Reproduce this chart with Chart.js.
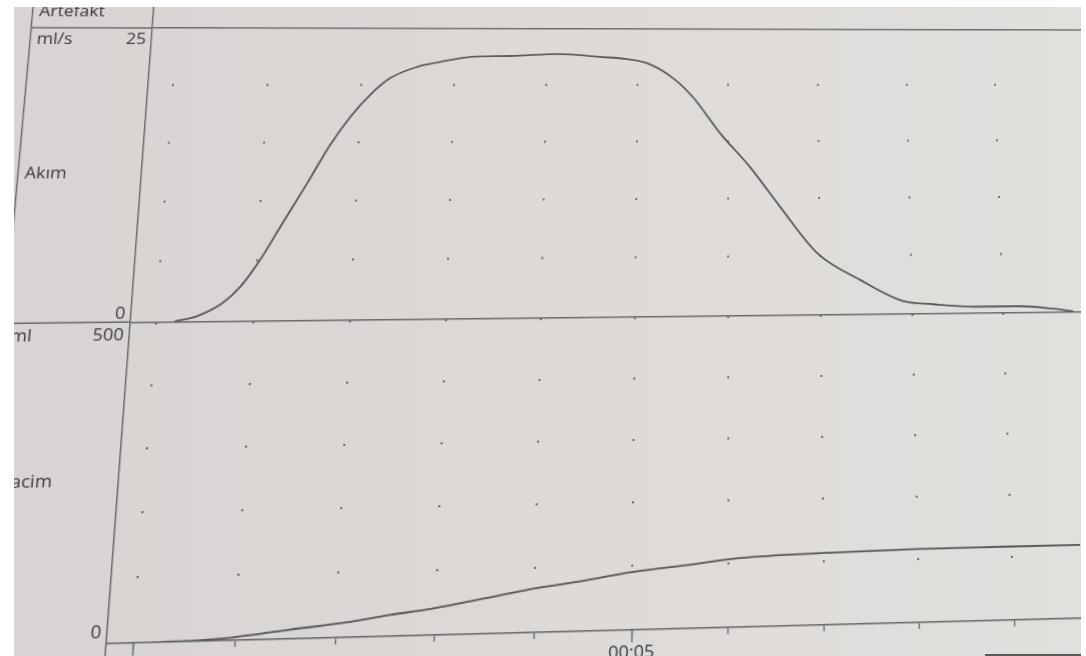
<!DOCTYPE html>
<html lang="tr">
<head>
<meta charset="utf-8">
<title>Üroflowmetri</title>
<script src="https://cdn.jsdelivr.net/npm/chart.js@4.4.1/dist/chart.umd.min.js"></script>
<style>
  html, body { margin:0; padding:0; width:1086px; height:656px; overflow:hidden; background:#ffffff; }
  #sheet {
    position:absolute; left:0; top:0; width:1086px; height:656px; overflow:hidden;
    background: linear-gradient(90deg, #d9d4d3 0%, #dbd7d5 35%, #dfdcda 70%, #e1e0dd 100%);
    clip-path: inset(7px 5px 0 14px);
  }
  #print { position:absolute; left:0; top:0; width:1200px; height:720px; transform-origin:0 0; }
  #print canvas { display:block; width:1200px; height:720px; }
  #edge { position:absolute; left:985px; top:654px; width:96px; height:2px; background:#5a5a5a; }
</style>
</head>
<body>
<div id="sheet">
  <div id="print"><canvas id="uroflow" width="1200" height="720"></canvas></div>
  <div id="edge"></div>
</div>
<script>
// Flow rate curve: time (s) and rate (ml/s)
const flowTimes = [0.19, 0.42, 0.67, 0.84, 1.03, 1.25, 1.48, 1.70, 1.90, 2.10, 2.31, 2.59, 2.84, 3.16, 3.60, 4.14,
                   4.58, 4.88, 5.10, 5.39, 5.61, 5.91, 6.24, 6.57, 6.97, 7.44, 7.90, 8.23, 8.71, 9.19, 9.56, 9.78];
const flowRates = [0, 0.43, 1.48, 2.79, 5.03, 8.21, 11.51, 14.77, 17.2, 19.12, 20.61, 21.58, 22.03, 22.48, 22.57, 22.75,
                   22.49, 22.31, 21.95, 20.61, 18.92, 15.73, 12.73, 9.23, 5.23, 2.88, 1.05, 0.75, 0.5, 0.5, 0.25, 0];

// Voided volume curve: time (s) and volume (ml)
const volumeTimes = [0.19, 0.66, 0.98, 1.54, 2.04, 2.54, 2.94, 3.52, 4.02, 4.36, 5.01, 5.57, 6.12, 6.99, 7.99, 8.95, 9.74];
const volumes     = [0, 1.5, 4.5, 14, 21.6, 32.4, 40.0, 54.7, 68.2, 74.7, 89.5, 98.5, 107.5, 112.4, 115.4, 116, 116.3];

// Scale ends, grid steps and texts
const flowMax = 25, flowStep = 5;
const volumeMax = 500, volumeStep = 100;
const timeStep = 1, timeMajorStep = 5;
const panelTitles = ['Akım', 'Hacim'];
const unitLabels = ['ml/s', 'ml'];
const headerLabel = 'Artefakt';

// ---- layout of the printout (canvas pixels) ----
const W = 1200, H = 720;
const T0_X = 175, PX_PER_S = 92;        // where t = 0 sits, seconds to pixels
const TOP_Y = 28, BASE_Y = 628;         // flow max line, volume baseline
const SPLIT = 0.497;                    // share of the height taken by the flow panel
const X_MIN = -0.265, X_MAX = 11.03;
const TIME_LABEL_BAND = 40;             // room under the baseline for the time labels
const FRAME_X = 33.6, LABEL_X = 40;
const INK = '#6a6a6a', CURVE = '#585858', DOT = '#6f6f6f', TEXT = '#3a3a3a';
const FONT_FAMILY = '"Open Sans", "DejaVu Sans", sans-serif';
const FONT = '17px ' + FONT_FAMILY;

// The sheet lies at a slight angle: project the flat layout onto its quad.
// Corners: (t=0, top line), (t=9, top line), (t=9, baseline), (t=0, baseline)
const sheetQuad = [[177, 28], [993, 30], [1014, 620], [133, 643]];
const QUAD_SPAN_S = 9;

function squareToQuad(q) {
  const [[x0, y0], [x1, y1], [x2, y2], [x3, y3]] = q;
  const dx1 = x1 - x2, dx2 = x3 - x2, dx3 = x0 - x1 + x2 - x3;
  const dy1 = y1 - y2, dy2 = y3 - y2, dy3 = y0 - y1 + y2 - y3;
  const den = dx1 * dy2 - dx2 * dy1;
  const g = (dx3 * dy2 - dx2 * dy3) / den;
  const h = (dx1 * dy3 - dx3 * dy1) / den;
  return [[x1 - x0 + g * x1, x3 - x0 + h * x3, x0],
          [y1 - y0 + g * y1, y3 - y0 + h * y3, y0],
          [g, h, 1]];
}
function sheetTransform() {
  const S = squareToQuad(sheetQuad);
  const sx = 1 / (QUAD_SPAN_S * PX_PER_S), tx = -T0_X * sx;
  const sy = 1 / (BASE_Y - TOP_Y), ty = -TOP_Y * sy;
  const M = S.map(r => [r[0] * sx, r[1] * sy, r[0] * tx + r[1] * ty + r[2]]);
  return 'matrix3d(' + [M[0][0], M[1][0], 0, M[2][0],
                        M[0][1], M[1][1], 0, M[2][1],
                        0, 0, 1, 0,
                        M[0][2], M[1][2], 0, M[2][2]].join(',') + ')';
}
document.getElementById('print').style.transform = sheetTransform();

const flowMin = flowMax - flowMax / SPLIT;          // puts 0 ml/s on the panel divider
const volumeTop = volumeMax / (1 - SPLIT);          // puts 500 ml on the panel divider

function mmss(v) {
  const s = Math.round(v);
  return String(Math.floor(s / 60)).padStart(2, '0') + ':' + String(s % 60).padStart(2, '0');
}
const noSize = { afterFit(scale) { if (scale.isHorizontal()) scale.height = 0; else scale.width = 0; } };

const printPlugin = {
  id: 'printSheet',
  beforeDatasetsDraw(chart) {
    const { ctx, scales } = chart;
    const x = scales.x, yF = scales.yF, yV = scales.yV;
    const cols = x.ticks.map(t => t.value).filter(v => v >= 0);
    const fRows = yF.ticks.map(t => t.value).filter(v => v > 0 && v < flowMax);
    const vRows = yV.ticks.map(t => t.value).filter(v => v > 0 && v < volumeMax);
    ctx.save();
    ctx.fillStyle = DOT;
    for (const c of cols) {
      const px = x.getPixelForValue(c);
      for (const f of fRows) ctx.fillRect(px - 1, yF.getPixelForValue(f) - 1, 2, 2);
      for (const v of vRows) ctx.fillRect(px - 1, yV.getPixelForValue(v) - 1, 2, 2);
    }
    ctx.restore();
  },
  afterDraw(chart) {
    const { ctx, chartArea: ca, scales } = chart;
    const yF = scales.yF, yV = scales.yV;
    const fTop = yF.getPixelForValue(flowMax), fZero = yF.getPixelForValue(0);
    const vTop = yV.getPixelForValue(volumeMax), vZero = yV.getPixelForValue(0);
    ctx.save();
    ctx.strokeStyle = INK;
    ctx.lineWidth = 1.4;
    ctx.beginPath();
    ctx.moveTo(ca.left, 0); ctx.lineTo(ca.left, ca.top);          // value axis above the top line
    ctx.moveTo(ca.left, ca.bottom); ctx.lineTo(ca.left, H);       // and below the baseline
    ctx.moveTo(FRAME_X, fTop); ctx.lineTo(ca.left, fTop);          // header rule into the label column
    ctx.moveTo(0, fZero); ctx.lineTo(ca.left, fZero);              // panel divider into the label column
    ctx.moveTo(FRAME_X, 0); ctx.lineTo(FRAME_X, fZero);            // label column frame
    ctx.stroke();

    ctx.font = FONT;
    ctx.fillStyle = TEXT;
    ctx.textBaseline = 'alphabetic';
    ctx.textAlign = 'left';
    ctx.fillText(headerLabel, LABEL_X, ca.top - 12);
    ctx.fillText(unitLabels[0], LABEL_X, fTop + 17);
    ctx.fillText(panelTitles[0], LABEL_X, (fTop + fZero) / 2 + 6);
    ctx.fillText(unitLabels[1], LABEL_X, vTop + 18);
    ctx.fillText(panelTitles[1], LABEL_X, (vTop + vZero) / 2 + 6);
    ctx.textAlign = 'right';
    const rx = ca.left - 5;
    ctx.fillText(String(flowMax), rx, fTop + 17);
    ctx.fillText('0', rx, fZero - 3);
    ctx.fillText(String(volumeMax), rx, vTop + 18);
    ctx.fillText('0', rx, vZero - 5);
    ctx.restore();
  }
};

new Chart(document.getElementById('uroflow'), {
  type: 'line',
  data: {
    datasets: [
      { label: panelTitles[0], data: flowTimes.map((t, i) => ({ x: t, y: flowRates[i] })),
        xAxisID: 'x', yAxisID: 'yF', borderColor: CURVE, borderWidth: 1.8, pointRadius: 0,
        fill: false, cubicInterpolationMode: 'monotone' },
      { label: panelTitles[1], data: volumeTimes.map((t, i) => ({ x: t, y: volumes[i] })),
        xAxisID: 'x', yAxisID: 'yV', borderColor: CURVE, borderWidth: 1.8, pointRadius: 0,
        fill: false, cubicInterpolationMode: 'monotone' }
    ]
  },
  options: {
    responsive: false, animation: false, devicePixelRatio: 1, events: [],
    layout: { padding: { left: T0_X + X_MIN * PX_PER_S, right: W - (T0_X + X_MAX * PX_PER_S),
                         top: TOP_Y, bottom: H - BASE_Y - TIME_LABEL_BAND } },
    plugins: { legend: { display: false }, tooltip: { enabled: false } },
    scales: {
      x: {
        type: 'linear', position: 'bottom', min: X_MIN, max: X_MAX, ...noSize,
        ticks: { stepSize: timeStep, includeBounds: false, display: false },
        grid: { drawOnChartArea: false, drawTicks: true, tickLength: 6, tickColor: INK, tickWidth: 1.3 },
        border: { display: true, color: INK, width: 1.4 }
      },
      xMajor: {
        type: 'linear', position: 'bottom', min: X_MIN, max: X_MAX,
        afterFit(scale) { scale.height = TIME_LABEL_BAND; },
        ticks: { stepSize: timeMajorStep, includeBounds: false, autoSkip: false, maxRotation: 0, padding: -1,
                 color: TEXT, font: { family: FONT_FAMILY, size: 17 },
                 callback: v => mmss(v) },
        grid: { drawOnChartArea: false, drawTicks: true, tickLength: 11.5, tickColor: INK, tickWidth: 1.3 },
        border: { display: false }
      },
      yF: {
        type: 'linear', position: 'left', min: flowMin, max: flowMax, ...noSize,
        ticks: { stepSize: flowStep, display: false },
        grid: { drawTicks: false, lineWidth: 1.4,
                color: c => (c.tick && (c.tick.value === 0 || c.tick.value === flowMax)) ? INK : 'rgba(0,0,0,0)' },
        border: { display: true, color: INK, width: 1.4 }
      },
      yV: {
        type: 'linear', position: 'left', min: 0, max: volumeTop, ...noSize,
        ticks: { stepSize: volumeStep, display: false },
        grid: { display: false, drawTicks: false },
        border: { display: false }
      }
    }
  },
  plugins: [printPlugin]
});
</script>
</body>
</html>
